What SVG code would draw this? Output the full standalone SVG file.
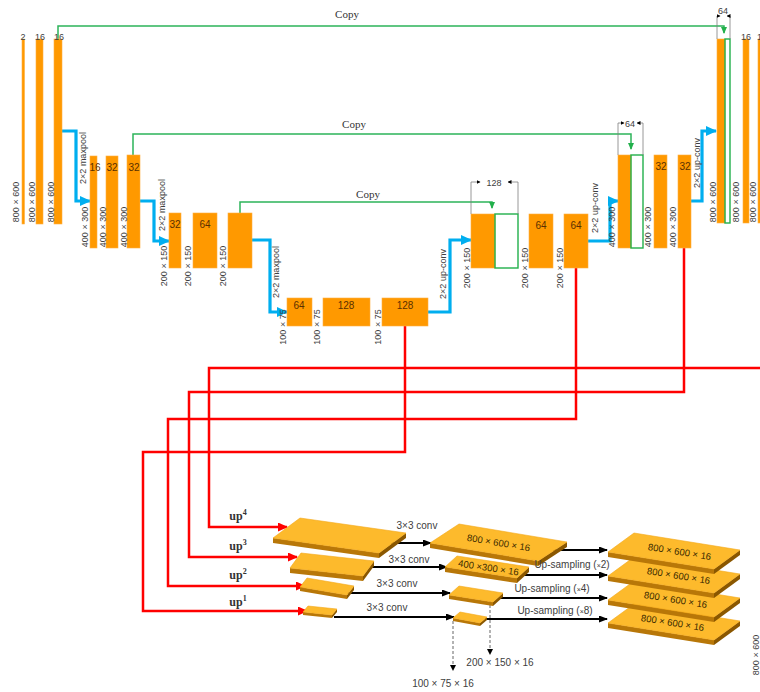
<svg xmlns="http://www.w3.org/2000/svg" width="760" height="692" viewBox="0 0 760 692">
<style>
.bar{fill:#FF9900;stroke:#FFB040;stroke-width:0.6}
.cat{fill:none;stroke:#22B04B;stroke-width:1.4}
.copy{fill:none;stroke:#2DB45A;stroke-width:1.5}
.blue{fill:none;stroke:#00AEEF;stroke-width:3.2}
.red{fill:none;stroke:#FF0000;stroke-width:2.5}
.dim{fill:none;stroke:#7F7F7F;stroke-width:0.8}
.blk{fill:none;stroke:#000;stroke-width:2}
.dash{fill:none;stroke:#555;stroke-width:0.9;stroke-dasharray:3,2}
.t9{font-family:"Liberation Sans",Arial,sans-serif;font-size:9px;fill:#404040}
.t10{font-family:"Liberation Sans",Arial,sans-serif;font-size:10px;fill:#404040}
.n{font-family:"Liberation Sans",Arial,sans-serif;font-size:10px;fill:#5a3000;text-anchor:middle}
.mid{text-anchor:middle}
.cp{font-family:"Liberation Serif","Times New Roman",serif;font-size:11px;fill:#333;text-anchor:middle}
.up{font-family:"Liberation Serif","Times New Roman",serif;font-size:12px;font-weight:bold;fill:#333;text-anchor:middle}
.top{fill:#FDBA2C;stroke:#F3A818;stroke-width:0.6}
.front{fill:#B87708}
.side{fill:#8A5700}
.st{font-family:"Liberation Sans",Arial,sans-serif;font-size:9.5px;fill:#3a2a00;text-anchor:middle}
</style>
<defs>
<marker id="ab" markerUnits="userSpaceOnUse" markerWidth="11" markerHeight="10" refX="10" refY="5" orient="auto"><path d="M0,0 L11,5 L0,10 z" fill="#00AEEF"/></marker>
<marker id="ar" markerUnits="userSpaceOnUse" markerWidth="10" markerHeight="9" refX="9" refY="4.5" orient="auto"><path d="M0,0 L10,4.5 L0,9 z" fill="#FF0000"/></marker>
<marker id="ak" markerUnits="userSpaceOnUse" markerWidth="9" markerHeight="7" refX="8" refY="3.5" orient="auto"><path d="M0,0 L9,3.5 L0,7 z" fill="#000"/></marker>
<marker id="ag" markerUnits="userSpaceOnUse" markerWidth="7" markerHeight="6" refX="6" refY="3" orient="auto"><path d="M0,0 L7,3 L0,6 z" fill="#22B04B"/></marker>
<marker id="ad" markerUnits="userSpaceOnUse" markerWidth="6" markerHeight="6" refX="5" refY="3" orient="auto"><path d="M0,0 L6,3 L0,6 z" fill="#000"/></marker>
<marker id="am" markerUnits="userSpaceOnUse" markerWidth="4" markerHeight="4" refX="3.5" refY="2" orient="auto"><path d="M0,0 L4,2 L0,4 z" fill="#000"/></marker>
<g id="bigslab">
<polygon class="front" points="0,0 106,17 106,22 0,5"/>
<polygon class="side" points="106,17 132,-2 132,3 106,22"/>
<polygon class="top" points="0,0 26,-19 132,-2 106,17"/>
</g>
</defs>

<!-- connectors -->
<g id="connectors">
<polyline class="copy" points="58,39 58,26 724,26 724,33" marker-end="url(#ag)"/>
<polyline class="copy" points="133,155 133,134 631,134 631,149" marker-end="url(#ag)"/>
<polyline class="copy" points="240,213 240,202 492,202 492,208" marker-end="url(#ag)"/>
<polyline class="blue" points="62,131 76,131 76,201 90,201" marker-end="url(#ab)"/>
<polyline class="blue" points="140,201 154,201 154,241 169,241" marker-end="url(#ab)"/>
<polyline class="blue" points="252,240 270,240 270,312 287,312" marker-end="url(#ab)"/>
<polyline class="blue" points="428,312 450,312 450,240 471,240" marker-end="url(#ab)"/>
<polyline class="blue" points="588,241 610,241 610,201 618,201" marker-end="url(#ab)"/>
<polyline class="blue" points="691,201 702,201 702,131 716,131" marker-end="url(#ab)"/>
<polyline class="red" points="405,326 405,452 143,452 143,611 307,611" marker-end="url(#ar)"/>
<polyline class="red" points="576,268 576,419 168,419 168,586 305,586" marker-end="url(#ar)"/>
<polyline class="red" points="684,248 684,392 189,392 189,557 297,557" marker-end="url(#ar)"/>
<polyline class="red" points="762,368 209,368 209,527 287,527" marker-end="url(#ar)"/>
<line class="blk" x1="390" y1="543" x2="431" y2="543" marker-end="url(#ak)"/>
<line class="blk" x1="372" y1="567" x2="447" y2="567" marker-end="url(#ak)"/>
<line class="blk" x1="345" y1="593" x2="450" y2="593" marker-end="url(#ak)"/>
<line class="blk" x1="334" y1="617" x2="454" y2="617" marker-end="url(#ak)"/>
<line class="blk" x1="553" y1="550" x2="607" y2="550" marker-end="url(#ak)"/>
<line class="blk" x1="524" y1="575" x2="607" y2="575" marker-end="url(#ak)"/>
<line class="blk" x1="500" y1="598" x2="607" y2="598" marker-end="url(#ak)"/>
<line class="blk" x1="485" y1="619" x2="607" y2="619" marker-end="url(#ak)"/>
<line class="dash" x1="453" y1="621" x2="453" y2="670" marker-end="url(#ad)"/>
<line class="dash" x1="490" y1="600" x2="490" y2="654" marker-end="url(#ad)"/>
</g>

<g id="enc1">
<rect class="bar" x="22" y="39" width="2.5" height="185"/>
<rect class="bar" x="36" y="39" width="7" height="185"/>
<rect class="bar" x="54" y="39" width="8" height="185"/>
<text class="t9 mid" x="23" y="40">2</text>
<text class="t9 mid" x="40" y="40">16</text>
<text class="t9 mid" x="59" y="40">16</text>
<text class="t9 mid" transform="translate(19,202) rotate(-90)">800 × 600</text>
<text class="t9 mid" transform="translate(35,202) rotate(-90)">800 × 600</text>
<text class="t9 mid" transform="translate(54,202) rotate(-90)">800 × 600</text>
<text class="t9 mid" transform="translate(86,158) rotate(-90)">2×2 maxpool</text>
</g>

<g id="enc2">
<rect class="bar" x="90" y="156" width="7" height="92"/>
<rect class="bar" x="106" y="156" width="12" height="92"/>
<rect class="bar" x="127" y="155" width="13" height="93"/>
<text class="n" x="95" y="171">16</text>
<text class="n" x="112" y="171">32</text>
<text class="n" x="134" y="171">32</text>
<text class="t9 mid" transform="translate(88,227) rotate(-90)">400 × 300</text>
<text class="t9 mid" transform="translate(106,227) rotate(-90)">400 × 300</text>
<text class="t9 mid" transform="translate(127,227) rotate(-90)">400 × 300</text>
<text class="t9 mid" transform="translate(165,205) rotate(-90)">2×2 maxpool</text>
</g>

<g id="enc3">
<rect class="bar" x="169" y="213" width="12" height="55"/>
<rect class="bar" x="193" y="213" width="24" height="55"/>
<rect class="bar" x="228" y="213" width="24" height="55"/>
<text class="n" x="175" y="228">32</text>
<text class="n" x="205" y="228">64</text>
<text class="t9 mid" transform="translate(167,266) rotate(-90)">200 × 150</text>
<text class="t9 mid" transform="translate(191,266) rotate(-90)">200 × 150</text>
<text class="t9 mid" transform="translate(226,266) rotate(-90)">200 × 150</text>
<text class="t9 mid" transform="translate(279,272) rotate(-90)">2×2 maxpool</text>
</g>

<g id="enc4">
<rect class="bar" x="287" y="298" width="25" height="28"/>
<rect class="bar" x="323" y="298" width="47" height="28"/>
<rect class="bar" x="382" y="298" width="46" height="28"/>
<text class="n" x="299" y="309">64</text>
<text class="n" x="346" y="309">128</text>
<text class="n" x="405" y="309">128</text>
<text class="t9 mid" transform="translate(286,327) rotate(-90)">100 × 75</text>
<text class="t9 mid" transform="translate(320,327) rotate(-90)">100 × 75</text>
<text class="t9 mid" transform="translate(381,327) rotate(-90)">100 × 75</text>
<text class="t9 mid" transform="translate(446,274) rotate(-90)">2×2 up-conv</text>
</g>

<g id="dec3">
<rect class="bar" x="471" y="214" width="24" height="54"/>
<rect class="cat" x="495" y="214" width="23" height="54"/>
<polyline class="dim" points="471,214 471,182 480,182" marker-end="url(#am)"/>
<polyline class="dim" points="518,214 518,182 508,182" marker-end="url(#am)"/>
<text class="t9 mid" x="494" y="186">128</text>
<rect class="bar" x="529" y="214" width="24" height="54"/>
<rect class="bar" x="564" y="214" width="24" height="54"/>
<text class="n" x="541" y="229">64</text>
<text class="n" x="576" y="229">64</text>
<text class="t9 mid" transform="translate(470,268) rotate(-90)">200 × 150</text>
<text class="t9 mid" transform="translate(528,268) rotate(-90)">200 × 150</text>
<text class="t9 mid" transform="translate(563,268) rotate(-90)">200 × 150</text>
<text class="t9 mid" transform="translate(598,208) rotate(-90)">2×2 up-conv</text>
</g>

<g id="dec2">
<rect class="bar" x="618" y="155" width="13" height="93"/>
<rect class="cat" x="631" y="155" width="12" height="93"/>
<polyline class="dim" points="618,155 618,123 624,123" marker-end="url(#am)"/>
<polyline class="dim" points="643,155 643,123 637,123" marker-end="url(#am)"/>
<text class="t9 mid" x="630" y="127">64</text>
<rect class="bar" x="654" y="155" width="13" height="93"/>
<rect class="bar" x="678" y="155" width="13" height="93"/>
<text class="n" x="661" y="170">32</text>
<text class="n" x="685" y="170">32</text>
<text class="t9 mid" transform="translate(615,227) rotate(-90)">400 × 300</text>
<text class="t9 mid" transform="translate(651,227) rotate(-90)">400 × 300</text>
<text class="t9 mid" transform="translate(676,227) rotate(-90)">400 × 300</text>
<text class="t9 mid" transform="translate(700,163) rotate(-90)">2×2 up-conv</text>
</g>

<g id="dec1">
<rect class="bar" x="717" y="39" width="8" height="184"/>
<rect class="cat" x="725" y="39" width="5" height="184"/>
<polyline class="dim" points="717,39 717,16 720,16" marker-end="url(#am)"/>
<polyline class="dim" points="730,39 730,16 727,16" marker-end="url(#am)"/>
<text class="t9 mid" x="723" y="14">64</text>
<rect class="bar" x="743" y="39" width="6" height="184"/>
<rect class="bar" x="758" y="39" width="5" height="184"/>
<text class="t9 mid" x="746" y="40">16</text>
<text class="t9" x="757" y="40">16</text>
<text class="t9 mid" transform="translate(716,202) rotate(-90)">800 × 600</text>
<text class="t9 mid" transform="translate(739,202) rotate(-90)">800 × 600</text>
<text class="t9 mid" transform="translate(756,202) rotate(-90)">800 × 600</text>
</g>

<g id="copy-labels">
<text class="cp" x="347" y="18">Copy</text>
<text class="cp" x="354" y="128">Copy</text>
<text class="cp" x="368" y="198">Copy</text>
</g>

<g id="slab-up1">
<polygon class="front" points="303,612 332,615 332,618 303,615"/>
<polygon class="side" points="332,615 337,609 337,612 332,618"/>
<polygon class="top" points="303,612 308,606 337,609 332,615"/>
</g>
<g id="slab-up2">
<polygon class="front" points="300,587 347,595 347,599 300,591"/>
<polygon class="side" points="347,595 354,586 354,590 347,599"/>
<polygon class="top" points="300,587 307,578 354,586 347,595"/>
</g>
<g id="slab-up3">
<polygon class="front" points="290,568 363,576 363,581 290,573"/>
<polygon class="side" points="363,576 374,561 374,566 363,581"/>
<polygon class="top" points="290,568 301,553 374,561 363,576"/>
</g>
<g id="slab-up4">
<polygon class="front" points="273,538 379,553 379,558 273,543"/>
<polygon class="side" points="379,553 406,533 406,538 379,558"/>
<polygon class="top" points="273,538 300,518 406,533 379,553"/>
</g>

<g id="slab-100">
<polygon class="front" points="453,618 480,623 480,626 453,621"/>
<polygon class="side" points="480,623 487,617 487,620 480,626"/>
<polygon class="top" points="453,618 460,612 487,617 480,623"/>
</g>
<g id="slab-200">
<polygon class="front" points="449,595 493,602 493,606 449,599"/>
<polygon class="side" points="493,602 503,593 503,597 493,606"/>
<polygon class="top" points="449,595 459,586 503,593 493,602"/>
</g>
<g id="slab-400">
<polygon class="front" points="445,567 517,578 517,583 445,572"/>
<polygon class="side" points="517,578 529,567 529,572 517,583"/>
<polygon class="top" points="445,567 457,556 529,567 517,578"/>
<text class="st" transform="translate(488,571) rotate(8.7)">400 ×300  × 16</text>
</g>
<g id="slab-800a">
<polygon class="front" points="430,543 538,561 538,566 430,548"/>
<polygon class="side" points="538,561 567,542 567,547 538,566"/>
<polygon class="top" points="430,543 459,524 567,542 538,561"/>
<text class="st" transform="translate(498,546) rotate(9.5)">800 × 600 × 16</text>
</g>

<g id="slab-r4"><use href="#bigslab" x="608" y="623"/><text class="st" transform="translate(672,626) rotate(9.1)">800 × 600 × 16</text></g>
<g id="slab-r3"><use href="#bigslab" x="608" y="600"/><text class="st" transform="translate(675,603) rotate(9.1)">800 × 600 × 16</text></g>
<g id="slab-r2"><use href="#bigslab" x="608" y="576"/><text class="st" transform="translate(678,579) rotate(9.1)">800 × 600 × 16</text></g>
<g id="slab-r1"><use href="#bigslab" x="608" y="552"/><text class="st" transform="translate(679,555) rotate(9.1)">800 × 600 × 16</text></g>

<g id="bottom-labels">
<text class="up" x="238" y="520">up<tspan font-size="8" dy="-5">4</tspan></text>
<text class="up" x="238" y="550">up<tspan font-size="8" dy="-5">3</tspan></text>
<text class="up" x="238" y="579">up<tspan font-size="8" dy="-5">2</tspan></text>
<text class="up" x="238" y="606">up<tspan font-size="8" dy="-5">1</tspan></text>
<text class="t10 mid" x="417" y="529">3×3 conv</text>
<text class="t10 mid" x="409" y="563">3×3 conv</text>
<text class="t10 mid" x="397" y="587">3×3 conv</text>
<text class="t10 mid" x="387" y="611">3×3 conv</text>
<text class="t10 mid" x="572" y="568">Up-sampling (<tspan font-size="7">×</tspan>2)</text>
<text class="t10 mid" x="552" y="592">Up-sampling (<tspan font-size="7">×</tspan>4)</text>
<text class="t10 mid" x="555" y="614">Up-sampling (<tspan font-size="7">×</tspan>8)</text>
<text class="t10 mid" x="500" y="666">200 × 150 × 16</text>
<text class="t10 mid" x="443" y="687">100 × 75 × 16</text>
<text class="t9 mid" transform="translate(759,655) rotate(-90)">800 × 600</text>
</g>
</svg>
